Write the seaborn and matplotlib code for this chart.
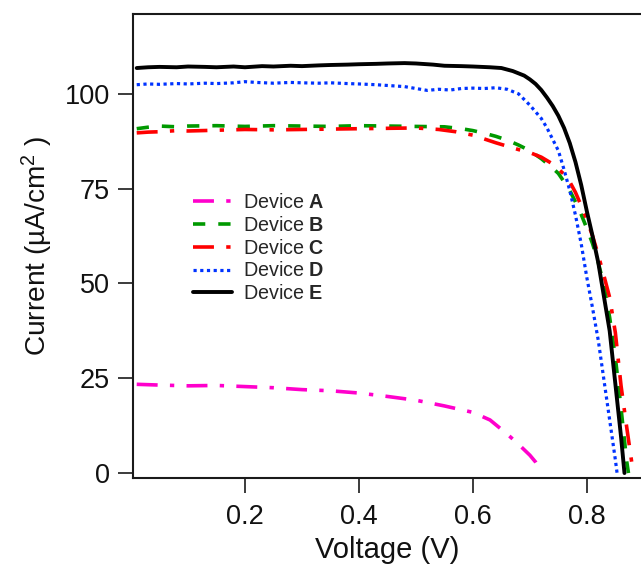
import matplotlib
matplotlib.use("Agg")
import matplotlib.pyplot as plt
import seaborn as sns
import pandas as pd

# J-V curves of five devices (voltage in V, current density in uA/cm^2)
V_A = [0.01, 0.05, 0.10, 0.15, 0.20, 0.25, 0.30, 0.35, 0.40, 0.45, 0.50, 0.55,
       0.60, 0.63, 0.66, 0.68, 0.70, 0.71, 0.72]
J_A = [23.4, 23.2, 23.0, 23.1, 22.8, 22.5, 22.0, 21.7, 21.1, 20.2, 19.2, 17.7,
       16.0, 14.0, 10.3, 7.6, 4.7, 2.9, 0.4]

V_B = [0.01, 0.03, 0.05, 0.08, 0.10, 0.15, 0.20, 0.25, 0.30, 0.35, 0.40, 0.45,
       0.50, 0.55, 0.58, 0.60, 0.62, 0.64, 0.66, 0.68, 0.70, 0.72, 0.74, 0.75,
       0.76, 0.77, 0.78, 0.79, 0.80, 0.81, 0.82, 0.83, 0.84, 0.85, 0.86, 0.87,
       0.873]
J_B = [90.8, 91.2, 91.5, 91.3, 91.5, 91.6, 91.4, 91.6, 91.5, 91.4, 91.6, 91.5,
       91.4, 91.3, 90.8, 90.3, 89.6, 88.8, 87.8, 86.5, 85.0, 82.9, 80.4, 79.0,
       76.8, 74.5, 71.5, 68.2, 64.5, 60.5, 55.5, 49.5, 41.0, 30.5, 17.0, 3.0,
       0.0]

V_C = [0.01, 0.03, 0.05, 0.08, 0.10, 0.15, 0.20, 0.25, 0.30, 0.35, 0.40, 0.45,
       0.50, 0.54, 0.57, 0.60, 0.62, 0.64, 0.66, 0.68, 0.70, 0.72, 0.74, 0.76,
       0.77, 0.78, 0.79, 0.80, 0.81, 0.82, 0.83, 0.84, 0.85, 0.86, 0.87, 0.88,
       0.882]
J_C = [89.7, 89.9, 90.0, 90.3, 90.2, 90.4, 90.6, 90.5, 90.6, 90.7, 90.8, 90.9,
       91.0, 90.6, 90.0, 89.1, 88.1, 87.1, 86.2, 85.3, 84.5, 83.3, 81.5, 78.8,
       76.8, 74.0, 70.5, 66.8, 62.5, 57.5, 52.0, 46.3, 37.0, 23.0, 12.0, 1.5,
       0.0]

V_D = [0.01, 0.03, 0.05, 0.08, 0.10, 0.13, 0.15, 0.18, 0.20, 0.22, 0.25, 0.28,
       0.30, 0.33, 0.35, 0.38, 0.40, 0.43, 0.45, 0.48, 0.50, 0.52, 0.54, 0.56,
       0.58, 0.60, 0.62, 0.64, 0.66, 0.68, 0.70, 0.72, 0.73, 0.74, 0.75, 0.76,
       0.77, 0.78, 0.79, 0.80, 0.81, 0.82, 0.83, 0.84, 0.85, 0.853]
J_D = [102.4, 102.6, 102.5, 102.7, 102.6, 102.8, 102.7, 102.9, 103.2, 103.0,
       102.8, 103.0, 102.9, 102.8, 102.9, 102.7, 102.6, 102.4, 102.2, 101.9,
       101.4, 100.9, 101.2, 101.0, 101.4, 101.5, 101.4, 101.6, 101.2, 100.0,
       97.0, 93.5, 91.0, 88.0, 85.0, 80.0, 74.5, 68.0, 60.5, 51.5, 43.5, 35.0,
       24.5, 14.0, 3.5, 0.0]

V_E = [0.01, 0.03, 0.05, 0.08, 0.10, 0.13, 0.15, 0.18, 0.20, 0.23, 0.25, 0.28,
       0.30, 0.33, 0.35, 0.38, 0.40, 0.43, 0.45, 0.48, 0.50, 0.53, 0.55, 0.58,
       0.60, 0.63, 0.65, 0.67, 0.69, 0.70, 0.71, 0.72, 0.73, 0.74, 0.75, 0.76,
       0.77, 0.78, 0.79, 0.80, 0.81, 0.82, 0.83, 0.84, 0.85, 0.86, 0.866]
J_E = [106.8, 107.0, 107.1, 107.0, 107.2, 107.1, 107.0, 107.2, 107.0, 107.3,
       107.2, 107.4, 107.3, 107.5, 107.6, 107.7, 107.8, 107.9, 108.0, 108.1,
       108.0, 107.7, 107.4, 107.3, 107.2, 107.0, 106.8, 106.0, 104.8, 103.8,
       102.6, 101.0, 99.0, 96.8, 94.2, 91.0, 87.0, 82.0, 76.0, 69.0, 62.5,
       55.5, 46.5, 37.5, 23.5, 9.5, 0.0]

devices = ["A", "B", "C", "D", "E"]
voltages = [V_A, V_B, V_C, V_D, V_E]
currents = [J_A, J_B, J_C, J_D, J_E]
colors = ["#FF00CC", "#009900", "#FF0000", "#0033FF", "#000000"]
styles = [(0, (5.8, 3.4, 1.2, 3.4)), (0, (3.4, 3.6)),
          (0, (5.8, 3.4, 1.2, 3.4)), (0, (1.0, 1.1)), "-"]
widths = [2.6, 2.6, 2.6, 2.3, 2.8]

sns.set_theme(style="white")
plt.rcParams["font.family"] = ["Liberation Sans", "DejaVu Sans"]
plt.rcParams["mathtext.fontset"] = "custom"
plt.rcParams["mathtext.rm"] = "Liberation Sans"
plt.rcParams["mathtext.bf"] = "Liberation Sans:bold"
plt.rcParams["mathtext.it"] = "Liberation Sans:italic"

fig = plt.figure(figsize=(6.41, 5.67), dpi=100)
ax = fig.add_axes([0.2075, 0.157, 0.7925, 0.818])

for name, v, j, c, ls, lw in zip(devices, voltages, currents, colors, styles, widths):
    df = pd.DataFrame({"Voltage": v, "Current": j})
    sns.lineplot(data=df, x="Voltage", y="Current", ax=ax, color=c,
                 linestyle=ls, linewidth=lw, estimator=None, sort=False,
                 label=rf"Device $\mathbf{{{name}}}$")

ax.set_xlim(0.0035, 0.895)
ax.set_ylim(-1.3, 121)
ax.set_xticks([0.2, 0.4, 0.6, 0.8])
ax.set_yticks([0, 25, 50, 75, 100])
ax.set_xticklabels(["0.2", "0.4", "0.6", "0.8"])
ax.set_yticklabels(["0", "25", "50", "75", "100"])

for side in ["left", "bottom", "top"]:
    ax.spines[side].set_color("#1a1a1a")
    ax.spines[side].set_linewidth(1.5)
ax.spines["right"].set_visible(False)

ax.tick_params(axis="both", which="major", direction="out", length=10.5,
               width=1.2, color="#1a1a1a", labelsize=19.5, labelcolor="#111111")
ax.tick_params(axis="x", pad=8, bottom=True)
ax.tick_params(axis="y", pad=6, left=True)

ax.set_xlabel("Voltage (V)", fontsize=21, labelpad=4.5, color="#111111")
ax.set_ylabel("Current (µA/cm$^{2}$ )", fontsize=20.2, labelpad=7, color="#111111")

handles, labels = ax.get_legend_handles_labels()
ax.legend(handles, labels, loc="upper left", bbox_to_anchor=(0.118, 0.614),
          frameon=False, fontsize=14.2, handlelength=1.97, handletextpad=0.55,
          labelspacing=0.19, borderpad=0, borderaxespad=0)

fig.savefig("out.png", dpi=100)
